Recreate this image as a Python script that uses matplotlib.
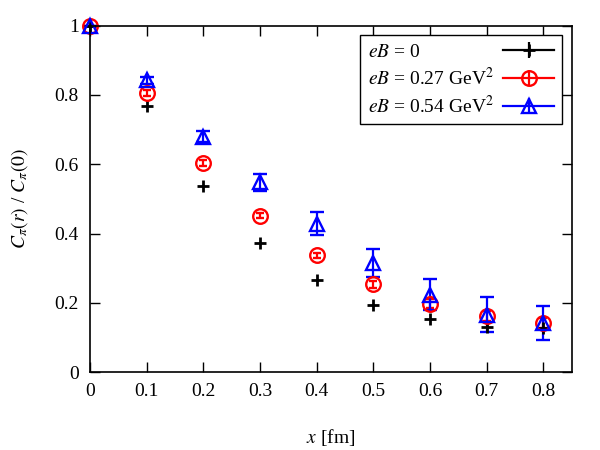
import matplotlib
matplotlib.use("Agg")
import matplotlib.pyplot as plt
from matplotlib.lines import Line2D
from matplotlib.legend_handler import HandlerLine2D

plt.rcParams["font.family"] = ["Liberation Serif", "DejaVu Serif"]
plt.rcParams["mathtext.fontset"] = "stix"

x = [0.0, 0.1, 0.2, 0.3, 0.4, 0.5, 0.6, 0.7, 0.8]

c_eb0 = [1.0, 0.769, 0.537, 0.372, 0.265, 0.194, 0.153, 0.130, 0.128]
e_eb0 = [0.0, 0.0, 0.0, 0.0, 0.0, 0.0, 0.0, 0.0, 0.0]

c_eb27 = [1.0, 0.806, 0.604, 0.452, 0.337, 0.254, 0.198, 0.162, 0.142]
e_eb27 = [0.0, 0.008, 0.008, 0.008, 0.008, 0.010, 0.012, 0.014, 0.015]

c_eb54 = [1.0, 0.843, 0.680, 0.548, 0.428, 0.314, 0.224, 0.166, 0.142]
e_eb54 = [0.0, 0.010, 0.015, 0.024, 0.033, 0.040, 0.044, 0.050, 0.050]

labels = [r"$eB$ = 0", r"$eB$ = 0.27 GeV$^2$", r"$eB$ = 0.54 GeV$^2$"]

FS = 14
fig = plt.figure(figsize=(6, 4.5), dpi=100)
ax = fig.add_axes([0.15, 0.173, 0.803, 0.770])

series = [
    (c_eb0, e_eb0, "black", "+", 0, dict(markersize=8, markeredgewidth=2.0)),
    (c_eb27, e_eb27, "red", "o", 3,
     dict(markersize=10.5, markeredgewidth=1.7, markerfacecolor="none")),
    (c_eb54, e_eb54, "blue", "^", 5,
     dict(markersize=10.5, markeredgewidth=1.7, markerfacecolor="none")),
]

handles = []
hmap = {}
for (y, e, col, mk, cs, kw), lab in zip(series, labels):
    ax.errorbar(x, y, yerr=e, fmt=mk, color=col, ecolor=col, elinewidth=1.6,
                capsize=cs, capthick=1.6, markeredgecolor=col, clip_on=False, **kw)
    bar = Line2D([], [], color=col, linewidth=1.6, marker="|", markersize=11,
                 markeredgewidth=1.6)
    pt = Line2D([], [], color=col, linestyle="none", marker=mk,
                markeredgecolor=col, **kw)
    hmap[pt] = HandlerLine2D(numpoints=1)
    handles.append((bar, pt))

ax.set_xlim(0, 0.85)
ax.set_ylim(0, 1)
ax.set_xticks([0, 0.1, 0.2, 0.3, 0.4, 0.5, 0.6, 0.7, 0.8])
ax.set_xticklabels(["0", "0.1", "0.2", "0.3", "0.4", "0.5", "0.6", "0.7", "0.8"])
ax.set_yticks([0, 0.2, 0.4, 0.6, 0.8, 1.0])
ax.set_yticklabels(["0", "0.2", "0.4", "0.6", "0.8", "1"])
ax.tick_params(direction="in", top=True, right=True, length=7, width=1,
               labelsize=FS, pad=8)
for sp in ax.spines.values():
    sp.set_linewidth(1.2)

ax.set_xlabel(r"$x$ [fm]", fontsize=FS, labelpad=19)
ax.set_ylabel(r"$C_{\pi}(r)$ / $C_{\pi}(0)$", fontsize=FS, labelpad=18)

leg = ax.legend(handles, labels, handler_map=hmap, loc="upper right",
                bbox_to_anchor=(0.979, 0.972), markerfirst=False, fontsize=FS,
                fancybox=False, framealpha=1, edgecolor="black", handlelength=2.6,
                handletextpad=0.5, labelspacing=0.3, borderpad=0.4,
                borderaxespad=0.0)
leg.get_frame().set_linewidth(1.0)

# gnuplot-style key: left-aligned labels, samples on the right
fig.canvas.draw()
widths = [t.get_window_extent().width * 72.0 / fig.dpi for t in leg.get_texts()]
rows = leg._legend_handle_box.get_children()[0].get_children()
for row, w in zip(rows, widths):
    row.sep = row.sep + (max(widths) - w)

fig.savefig("out.png", dpi=100)
